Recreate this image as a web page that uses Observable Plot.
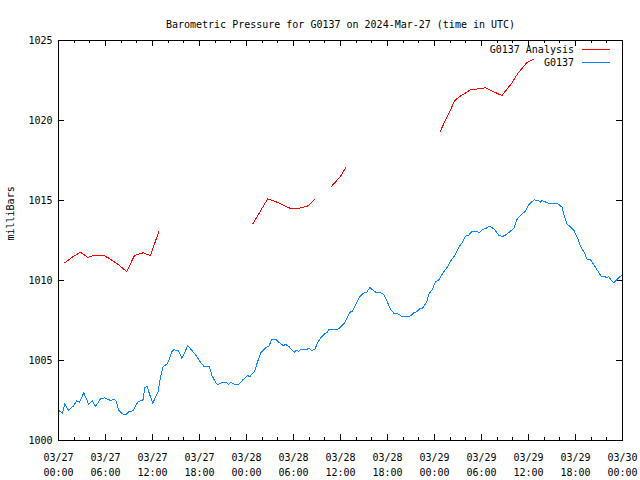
<!DOCTYPE html>
<html>
<head>
<meta charset="utf-8">
<script src="https://cdn.jsdelivr.net/npm/d3@7"></script>
<script src="https://cdn.jsdelivr.net/npm/@observablehq/plot@0.6"></script>
<style>
  html, body { margin: 0; padding: 0; background: #fff; }
  #chart svg { display: block; }
  #chart svg path, #chart svg line { shape-rendering: crispEdges; }
</style>
</head>
<body>
<div id="chart"></div>
<script>
// ---------- data ----------
const title = "Barometric Pressure for G0137 on 2024-Mar-27 (time in UTC)";
const yLabel = "milliBars";
const startTime = "2024-03-27T00:00:00Z";
const seriesNames = ["G0137 Analysis", "G0137"];
const seriesColors = ["#ff0000", "#0a84ff"];
const yTicks = [1000, 1005, 1010, 1015, 1020, 1025];
const xMajorHours = [0, 6, 12, 18, 24, 30, 36, 42, 48, 54, 60, 66, 72];
const xMinorHours = [2, 4, 8, 10, 14, 16, 20, 22, 26, 28, 32, 34, 38, 40, 44, 46, 50, 52, 56, 58, 62, 64, 68, 70];

// "G0137 Analysis" (hours since start, millibars; null = gap)
const analysisHours = [0.8, 1.75, 2.8, 3.75, 4.5, 5.8, 6.4, 7.5, 8.7, 9.7, 10.8, 11.75, 12.8,
  18,
  24.8, 26.7, 27.5, 29.7, 30.3, 31.75, 32.7,
  33.7,
  34.8, 36.0, 36.7,
  42,
  48.7, 50.6, 51.1, 52.6, 54.5, 56.6, 57.9, 58.6, 59.8, 60.7];
const analysisValues = [1011.1, 1011.46, 1011.77, 1011.44, 1011.56, 1011.56, 1011.4, 1011.05, 1010.56, 1011.56, 1011.73, 1011.56, 1013.06,
  null,
  1013.54, 1015.1, 1014.98, 1014.48, 1014.48, 1014.63, 1015.06,
  null,
  1015.86, 1016.5, 1017.07,
  null,
  1019.29, 1021.25, 1021.46, 1021.92, 1022.04, 1021.56, 1022.35, 1022.92, 1023.62, 1023.85];

// "G0137" station observations (hours since start, millibars)
const stationHours = [0.1, 0.26, 0.5, 0.8, 1.3, 1.96, 2.3, 2.68, 3.23, 3.87, 4.3, 4.73, 5.36, 5.9, 6.64, 7.1, 7.36, 7.7,
  8.13, 8.56, 8.98, 9.5, 9.92, 10.26, 10.77, 11.02, 11.32, 11.6, 12.04, 12.39, 12.73, 13.0, 13.37, 13.88, 14.1, 14.43,
  14.73, 15.28, 15.45, 15.75, 16.0, 16.5, 16.85, 17.5, 18.13, 18.55, 19.2, 19.4, 19.54, 20.05, 20.35, 20.78, 21.45,
  21.7, 21.96, 22.47, 23.0, 23.45, 24.1, 24.43, 25.0, 25.5, 25.8, 26.2, 26.5, 26.85, 27.2, 27.8, 28.13, 28.7, 29.0,
  29.4, 29.85, 30.14, 30.35, 30.7, 30.9, 31.75, 31.96, 32.3, 32.73, 33.0, 33.45, 33.9, 34.3, 34.5, 35.6, 36.0, 36.57,
  37.2, 37.5, 37.9, 38.4, 39.0, 39.3, 39.76, 40.07, 40.5, 41.0, 41.54, 42.0, 42.4, 42.8, 43.2, 43.8, 44.5, 44.95,
  45.4, 45.8, 46.1, 46.4, 47.0, 47.3, 47.7, 48.1, 48.6, 49.0, 49.55, 50.1, 50.6, 51.1, 51.55, 51.97, 52.4, 52.8,
  53.4, 53.7, 54.1, 54.7, 54.97, 55.6, 56.23, 56.66, 57.1, 57.7, 58.15, 58.56, 59.1, 59.6, 60.05, 60.7, 61.2, 61.55,
  61.75, 62.2, 62.8, 63.75, 64.3, 64.5, 64.9, 65.4, 65.8, 66.3, 66.7, 67.1, 67.45, 67.9, 68.4, 68.8, 69.25, 69.7,
  70.0, 70.25, 70.5, 70.9, 71.35, 71.7, 71.95];
const stationValues = [1001.85, 1001.81, 1001.69, 1002.29, 1001.87, 1002.19, 1002.48, 1002.38, 1002.98, 1002.25, 1002.5, 1002.13, 1002.6, 1002.67, 1002.5, 1002.58, 1002.46, 1001.88,
  1001.67, 1001.6, 1001.81, 1001.85, 1002.25, 1002.46, 1002.5, 1003.29, 1003.39, 1002.92, 1002.33, 1002.71, 1003.06, 1003.9, 1004.63, 1004.79, 1005.04, 1005.52,
  1005.67, 1005.63, 1005.5, 1005.13, 1005.38, 1005.94, 1005.73, 1005.36, 1004.9, 1004.64, 1004.64, 1004.42, 1004.1, 1003.64, 1003.48, 1003.6, 1003.64,
  1003.5, 1003.64, 1003.5, 1003.5, 1003.75, 1004.06, 1004.0, 1004.3, 1005.04, 1005.46, 1005.67, 1005.83, 1005.88, 1006.29, 1006.29, 1006.13, 1005.94, 1006.0,
  1005.88, 1005.63, 1005.52, 1005.63, 1005.58, 1005.69, 1005.69, 1005.79, 1005.63, 1005.69, 1006.04, 1006.42, 1006.63, 1006.77, 1006.92, 1006.92, 1007.08, 1007.39,
  1008.02, 1008.06, 1008.44, 1008.96, 1009.23, 1009.23, 1009.58, 1009.42, 1009.27, 1009.27, 1009.13, 1008.64, 1008.19, 1007.96, 1007.96, 1007.77, 1007.73, 1007.79,
  1008.0, 1008.06, 1008.23, 1008.23, 1008.64, 1009.17, 1009.42, 1009.9, 1010.06, 1010.42, 1010.77, 1011.25, 1011.56, 1012.08, 1012.39, 1012.77, 1012.85, 1013.08,
  1013.08, 1012.96, 1013.19, 1013.29, 1013.4, 1013.23, 1012.81, 1012.75, 1012.85, 1013.08, 1013.29, 1013.85, 1014.13, 1014.33, 1014.75, 1015.04, 1015.0, 1014.9,
  1015.0, 1014.9, 1014.79, 1014.79, 1014.58, 1014.17, 1013.54, 1013.33, 1013.13, 1012.6, 1012.08, 1011.77, 1011.35, 1011.31, 1010.94, 1010.63, 1010.27, 1010.25,
  1010.17, 1010.25, 1010.04, 1009.86, 1010.1, 1010.25, 1010.3];

// ---------- build ----------
const base = Date.parse(startTime);
const toDate = h => new Date(base + h * 3600e3);
const analysisData = analysisHours.map((h, i) => ({t: toDate(h), v: analysisValues[i]}));
const stationData = stationHours.map((h, i) => ({t: toDate(h), v: stationValues[i]}));
const majorTicks = xMajorHours.map(toDate);
const minorTicks = xMinorHours.map(toDate);

const W = 640, H = 480, mt = 40, mb = 40, ml = 58, mr = 18;
const innerW = W - ml - mr, innerH = H - mt - mb;
const FONT = "'DejaVu Sans Mono', 'Liberation Mono', monospace";
const pad2 = n => String(n).padStart(2, "0");
const fmtX = d => `${pad2(d.getUTCMonth() + 1)}/${pad2(d.getUTCDate())}\n${pad2(d.getUTCHours())}:${pad2(d.getUTCMinutes())}`;

const legendMark = (index, scales, values, dims) => {
  const g = d3.create("svg:g").attr("font-family", FONT).attr("font-size", 10);
  const xr = dims.width - dims.marginRight;
  seriesNames.forEach((name, i) => {
    const y = dims.marginTop + 9.5 + 13 * i;
    g.append("text").attr("x", xr - 48).attr("y", y).attr("dy", "0.32em")
      .attr("text-anchor", "end").attr("fill", "black").text(name);
    g.append("line").attr("x1", xr - 40).attr("x2", xr - 12)
      .attr("y1", y).attr("y2", y).attr("stroke", seriesColors[i]).attr("stroke-width", 1);
  });
  return g.node();
};

const chart = Plot.plot({
  width: W, height: H,
  marginTop: mt, marginBottom: mb, marginLeft: ml, marginRight: mr,
  style: {fontFamily: FONT, fontSize: "10px", background: "#fff", color: "black"},
  x: {type: "utc", domain: [toDate(0), toDate(72)]},
  y: {domain: [1000, 1025]},
  marks: [
    // inward ticks (bottom, top, left, right)
    Plot.tickX(majorTicks, {x: d => d, insetTop: innerH - 6, stroke: "black"}),
    Plot.tickX(majorTicks, {x: d => d, insetBottom: innerH - 6, stroke: "black"}),
    Plot.tickX(minorTicks, {x: d => d, insetTop: innerH - 3, stroke: "black"}),
    Plot.tickX(minorTicks, {x: d => d, insetBottom: innerH - 3, stroke: "black"}),
    Plot.tickY(yTicks, {y: d => d, insetRight: innerW - 6, stroke: "black"}),
    Plot.tickY(yTicks, {y: d => d, insetLeft: innerW - 6, stroke: "black"}),
    Plot.axisX({ticks: majorTicks, tickSize: 0, tickPadding: 10, tickFormat: fmtX, lineHeight: 1.5, fontSize: 10, label: null}),
    Plot.axisY({ticks: yTicks, tickSize: 0, tickPadding: 6, tickFormat: d => String(d), fontSize: 10, label: null}),
    Plot.line(stationData, {x: "t", y: "v", stroke: seriesColors[1], strokeWidth: 1}),
    Plot.line(analysisData, {x: "t", y: "v", stroke: seriesColors[0], strokeWidth: 1}),
    Plot.frame({stroke: "black"}),
    Plot.text([title], {frameAnchor: "top", dy: -20, fontSize: 10, fill: "black"}),
    Plot.text([yLabel], {frameAnchor: "left", dx: -48, rotate: -90, fontSize: 10, fill: "black"}),
    legendMark
  ]
});
document.getElementById("chart").appendChild(chart);
</script>
</body>
</html>
